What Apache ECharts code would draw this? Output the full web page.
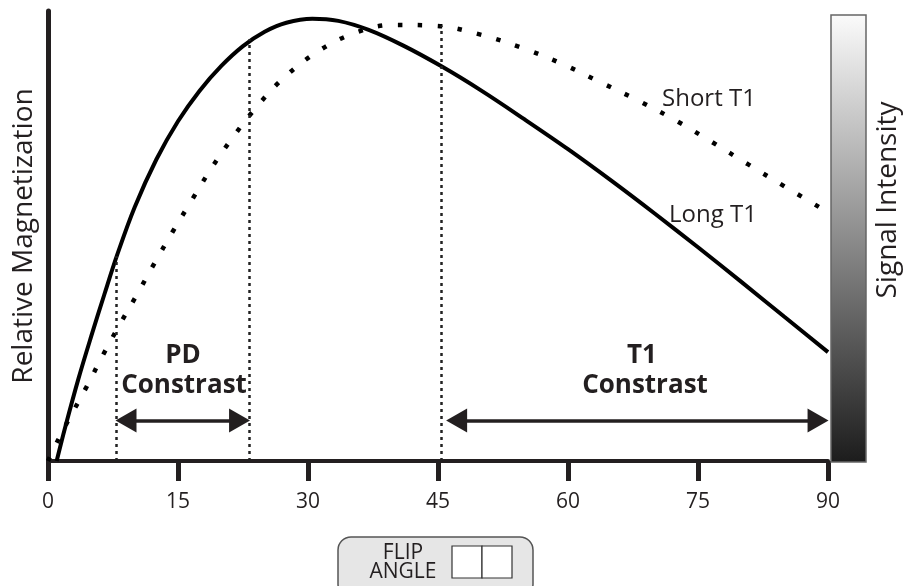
<!DOCTYPE html>
<html>
<head>
<meta charset="utf-8">
<script src="https://cdn.jsdelivr.net/npm/echarts@6/dist/echarts.min.js"></script>
<style>
html,body{margin:0;padding:0;background:#fff;}
#chart{width:906px;height:586px;}
</style>
</head>
<body>
<div id="chart"></div>
<script>
// ---- data ----
var xTicks = [0, 15, 30, 45, 60, 75, 90];
var longT1Angles = [1, 2, 3.5, 5, 6.5, 8, 10, 12.5, 15, 17.5, 20, 22.5, 25, 27.5, 30.5, 33.5, 37, 41, 45.4, 50, 55, 60, 65, 70, 75, 80, 85, 90];
var longT1Values = [0, 7.6, 18.2, 27.8, 37, 45.9, 56.4, 67, 75.5, 82.3, 87.8, 92.2, 95.4, 97.4, 98.3, 97.8, 95.8, 92.3, 87.7, 82.3, 75.9, 69.3, 62.3, 55, 47.5, 39.8, 32, 24.2];
var shortT1Angles = [0, 1.15, 2.3, 4.4, 6.3, 8.3, 10.3, 12.3, 14.4, 16.6, 18.8, 21.2, 23.9, 26.9, 30.5, 34.7, 39.7, 44.9, 49.8, 54.7, 59.5, 63.7, 68.2, 72.5, 76.6, 80.8, 85.0, 89.1];
var shortT1Values = [0, 4.6, 8.9, 16.3, 23.4, 30.4, 37.1, 44.0, 51.0, 58.0, 64.9, 71.6, 78.3, 84.6, 90.2, 94.6, 96.9, 96.7, 94.8, 91.8, 88.1, 84.2, 80.0, 75.6, 70.9, 65.9, 61.0, 56.3];
// vertical guide lines: [angle, top value]
var guideLines = [[7.85, 45.5], [23.2, 93.7], [45.4, 96.8]];
// contrast ranges: [from angle, to angle, level]
var pdRange = [9.0, 22.1, 9];
var t1Range = [47.15, 88.85, 9];

var FONT = "'Open Sans', 'DejaVu Sans', sans-serif";
var INK = '#231f20';

function zip(a, b) { return a.map(function (v, i) { return [v, b[i]]; }); }

var chart = echarts.init(document.getElementById('chart'), null, {renderer: 'canvas'});

var guideData = guideLines.map(function (g) {
  return [{coord: [g[0], 0], symbol: 'none'}, {coord: [g[0], g[1]], symbol: 'none'}];
});
var arrowItem = function (r) {
  return [
    {coord: [r[0], r[2]], symbol: 'triangle', symbolSize: [24, 21]},
    {coord: [r[1], r[2]], symbol: 'triangle', symbolSize: [24, 21]}
  ];
};

var option = {
  animation: false,
  grid: {left: 48, right: 78, top: 11, bottom: 125, containLabel: false},
  xAxis: {
    type: 'value', min: 0, max: 90, interval: 15,
    axisLine: {show: true, onZero: false, lineStyle: {color: INK, width: 4}},
    axisTick: {show: true, length: 20, lineStyle: {color: INK, width: 5}},
    axisLabel: {margin: 31, fontSize: 21, color: INK, fontFamily: FONT},
    splitLine: {show: false}
  },
  yAxis: {
    type: 'value', min: 0, max: 100,
    name: 'Relative Magnetization', nameLocation: 'middle', nameGap: 10,
    nameTextStyle: {fontSize: 28, color: INK, fontFamily: FONT},
    axisLine: {show: true, lineStyle: {color: INK, width: 5}},
    axisTick: {show: false}, axisLabel: {show: false}, splitLine: {show: false}
  },
  series: [
    {
      name: 'Long T1', type: 'line', data: zip(longT1Angles, longT1Values),
      smooth: 0.35, showSymbol: false, symbol: 'none', z: 3,
      lineStyle: {color: '#000', width: 4}
    },
    {
      name: 'Short T1', type: 'line', data: zip(shortT1Angles, shortT1Values),
      smooth: 0.35, showSymbol: false, symbol: 'none', z: 3,
      lineStyle: {color: '#000', width: 4.5, type: [4.5, 15.5], cap: 'butt'}
    },
    {
      name: 'guides', type: 'line', data: [], z: 2,
      markLine: {
        silent: true, animation: false, label: {show: false},
        symbol: ['none', 'none'],
        lineStyle: {color: '#222', width: 2.5, type: [3, 4]},
        data: guideData
      }
    },
    {
      name: 'contrast', type: 'line', data: [], z: 4,
      markLine: {
        silent: true, animation: false, label: {show: false},
        lineStyle: {color: INK, width: 3.5, type: 'solid'},
        itemStyle: {color: INK},
        data: [arrowItem(pdRange), arrowItem(t1Range)]
      }
    }
  ],
  graphic: [
    {
      type: 'rect', z: 5,
      shape: {x: 831, y: 15, width: 35, height: 447},
      style: {
        fill: new echarts.graphic.LinearGradient(0, 0, 0, 1, [
          {offset: 0, color: '#fbfbfb'}, {offset: 1, color: '#1c1c1c'}
        ]),
        stroke: '#666', lineWidth: 1.5
      }
    },
    {type: 'text', z: 5, x: 888, y: 200, rotation: Math.PI / 2,
      style: {text: 'Signal Intensity', font: '28px ' + FONT, fill: INK, align: 'center', verticalAlign: 'middle'}},
    {type: 'text', z: 5, x: 183, y: 356,
      style: {text: 'PD', font: 'bold 26px ' + FONT, fill: INK, align: 'center', verticalAlign: 'middle'}},
    {type: 'text', z: 5, x: 184, y: 386,
      style: {text: 'Constrast', font: 'bold 26px ' + FONT, fill: INK, align: 'center', verticalAlign: 'middle'}},
    {type: 'text', z: 5, x: 642, y: 356,
      style: {text: 'T1', font: 'bold 26px ' + FONT, fill: INK, align: 'center', verticalAlign: 'middle'}},
    {type: 'text', z: 5, x: 645, y: 386,
      style: {text: 'Constrast', font: 'bold 26px ' + FONT, fill: INK, align: 'center', verticalAlign: 'middle'}},
    {type: 'text', z: 5, x: 662, y: 99,
      style: {text: 'Short T1', font: '24px ' + FONT, fill: INK, align: 'left', verticalAlign: 'middle'}},
    {type: 'text', z: 5, x: 669, y: 215,
      style: {text: 'Long T1', font: '24px ' + FONT, fill: INK, align: 'left', verticalAlign: 'middle'}},
    {
      type: 'group', z: 5,
      children: [
        {type: 'rect', shape: {x: 338, y: 537, width: 195, height: 60, r: 13},
          style: {fill: '#e6e6e6', stroke: '#555', lineWidth: 1.5}},
        {type: 'text', x: 403, y: 553,
          style: {text: 'FLIP', font: '21px ' + FONT, fill: INK, align: 'center', verticalAlign: 'middle'}},
        {type: 'text', x: 403, y: 572,
          style: {text: 'ANGLE', font: '21px ' + FONT, fill: INK, align: 'center', verticalAlign: 'middle'}},
        {type: 'rect', shape: {x: 452, y: 546, width: 30, height: 32},
          style: {fill: '#fff', stroke: '#333', lineWidth: 1.2}},
        {type: 'rect', shape: {x: 482, y: 546, width: 30, height: 32},
          style: {fill: '#fff', stroke: '#333', lineWidth: 1.2}}
      ]
    }
  ]
};
chart.setOption(option);
</script>
</body>
</html>
